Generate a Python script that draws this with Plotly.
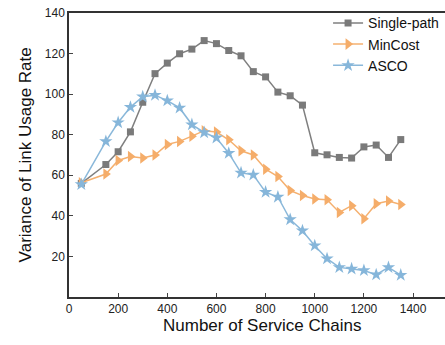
import plotly.graph_objects as go

x_vals = [50, 150, 200, 250, 300, 350, 400, 450, 500, 550, 600, 650, 700, 750,
          800, 850, 900, 950, 1000, 1050, 1100, 1150, 1200, 1250, 1300, 1350]
single_path = [56, 65.3, 71.6, 81.4, 96, 110.1, 115.3, 119.9, 122.2, 126.4, 124.9, 121.5, 118.9, 111.1,
               108.5, 101, 99.2, 94.6, 71.1, 70.1, 68.8, 68.5, 74, 74.9, 68.8, 77.6]
min_cost = [56.3, 60.6, 67.3, 69.3, 68.5, 70, 75.2, 76.7, 79.3, 82, 81.3, 77.5, 72.1, 70,
            63, 59.4, 52.5, 50, 48.3, 47.9, 41.7, 45, 38.6, 46, 47.3, 45.6]
asco = [55.5, 76.7, 86, 93.6, 98.7, 99.5, 96.8, 93.2, 85, 81.1, 78.5, 70.9, 61.2, 60.2,
        51.7, 49.3, 38.2, 32.7, 25.3, 18.9, 14.6, 13.9, 13.1, 11, 14.6, 10.8]
x_ticks = [0, 200, 400, 600, 800, 1000, 1200, 1400]
y_ticks = [20, 40, 60, 80, 100, 120, 140]

fig = go.Figure()
fig.add_trace(go.Scatter(x=x_vals, y=single_path, name="Single-path", mode="lines+markers",
                         line=dict(color="#7f7f7f", width=1.5),
                         marker=dict(symbol="square", size=7, color="#7a7a7a")))
fig.add_trace(go.Scatter(x=x_vals, y=min_cost, name="MinCost", mode="lines+markers",
                         line=dict(color="#f5b06f", width=1.5),
                         marker=dict(symbol="triangle-right", size=10, color="#f5ad6a")))
fig.add_trace(go.Scatter(x=x_vals, y=asco, name="ASCO", mode="lines+markers",
                         line=dict(color="#8ab8da", width=1.5),
                         marker=dict(symbol="star", size=10, color="#86b6da")))

axis_font = dict(family="Arial, Liberation Sans, sans-serif", size=12, color="#222")
fig.update_layout(
    width=445, height=345,
    margin=dict(l=69, r=0, t=13, b=48, autoexpand=False),
    plot_bgcolor="white", paper_bgcolor="white",
    font=dict(family="Arial, Liberation Sans, sans-serif", color="#111"),
    showlegend=True,
    legend=dict(x=0.689, y=1.02, xanchor="left", yanchor="top",
                bgcolor="rgba(0,0,0,0)", font=dict(size=14, color="#111"),
                tracegroupgap=0, itemwidth=30),
    xaxis=dict(range=[0, 1530], tickvals=x_ticks, ticks="inside", ticklen=4,
               showline=True, linecolor="#333", linewidth=1.5, mirror=True,
               showgrid=False, zeroline=False, tickfont=axis_font, automargin=False),
    yaxis=dict(range=[0, 140], tickvals=y_ticks, ticks="inside", ticklen=4,
               showline=True, linecolor="#333", linewidth=1.5,
               showgrid=False, zeroline=False, tickfont=axis_font, automargin=False),
    annotations=[
        dict(text="Number of Service Chains", xref="paper", yref="paper",
             x=0.514, y=-0.101, xanchor="center", yanchor="middle", showarrow=False,
             font=dict(size=17, color="#111")),
        dict(text="Variance of Link Usage Rate", xref="paper", yref="paper",
             x=-0.116, y=0.5, xanchor="center", yanchor="middle", showarrow=False,
             textangle=-90, font=dict(size=17, color="#111")),
    ],
)
fig.write_html("out.html", config={"displayModeBar": False},
               post_script="document.body.style.margin='0';document.body.style.overflow='hidden';")
